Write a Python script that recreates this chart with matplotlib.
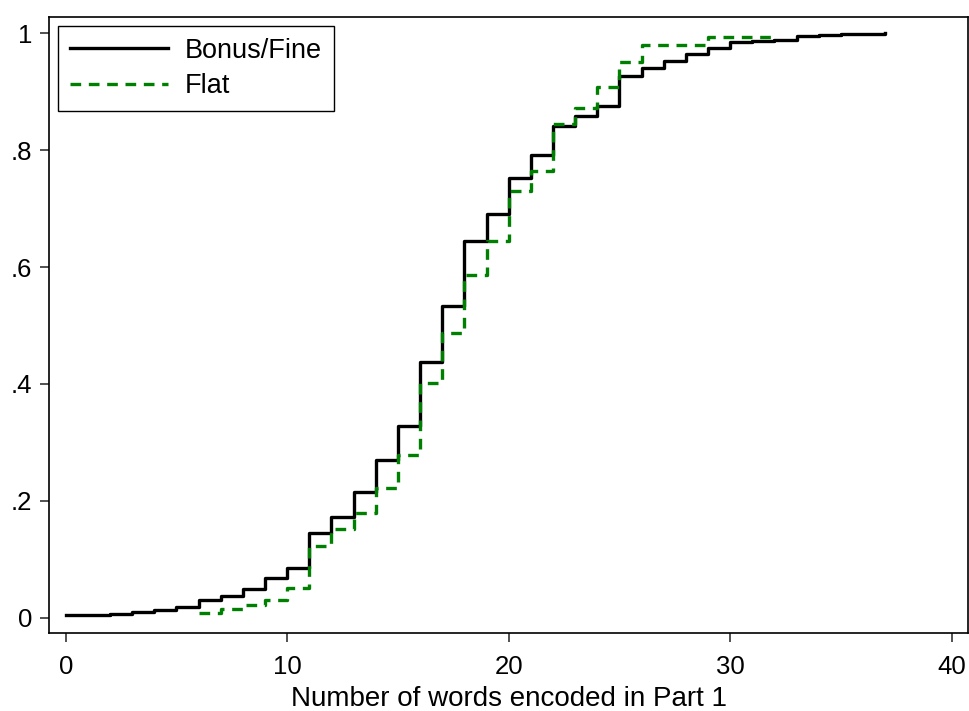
import matplotlib
matplotlib.use("Agg")
import matplotlib.pyplot as plt

plt.rcParams['font.family'] = ['Liberation Sans', 'DejaVu Sans']

# words encoded (x) and cumulative share, Bonus/Fine group
bonus_x = list(range(0, 38))
bonus_cdf = [0.004, 0.004, 0.006, 0.009, 0.014, 0.019, 0.031, 0.037, 0.049, 0.068,
             0.085, 0.145, 0.173, 0.215, 0.270, 0.328, 0.438, 0.533, 0.645, 0.691,
             0.752, 0.791, 0.841, 0.858, 0.876, 0.927, 0.941, 0.952, 0.965, 0.975,
             0.985, 0.987, 0.989, 0.995, 0.997, 0.998, 0.999, 1.0]

# Flat group
flat_x = list(range(6, 33))
flat_cdf = [0.008, 0.015, 0.022, 0.030, 0.051, 0.123, 0.152, 0.180, 0.222, 0.279,
            0.401, 0.487, 0.587, 0.644, 0.730, 0.765, 0.844, 0.872, 0.908, 0.951,
            0.980, 0.980, 0.980, 0.994, 0.994, 0.994, 1.0]

xticks = [0, 10, 20, 30, 40]
yticks = [0, 0.2, 0.4, 0.6, 0.8, 1]
ylabels = ["0", ".2", ".4", ".6", ".8", "1"]

fig = plt.figure(figsize=(9.69, 7.11), dpi=100)
ax = fig.add_axes([49.3/969, 1-633.3/711, (968.3-49.3)/969, (633.3-16.7)/711])

ax.step(bonus_x, bonus_cdf, where='post', color='black', lw=2.4, label='Bonus/Fine')
ax.step(flat_x, flat_cdf, where='post', color='#008000', lw=2.4,
        dashes=(3.2, 2.3), label='Flat')

ax.set_xlim(-0.74, 40.75)
ax.set_ylim(-0.0267, 1.0284)
ax.set_xticks(xticks)
ax.set_yticks(yticks)
ax.set_yticklabels(ylabels)
ax.tick_params(labelsize=18.5, length=6.5, width=1.2, color='#333333')
ax.tick_params(axis='x', pad=9)
ax.tick_params(axis='y', pad=6)
for s in ax.spines.values():
    s.set_linewidth(1.2)
ax.set_xlabel("Number of words encoded in Part 1", fontsize=20, labelpad=5)

leg = ax.legend(loc='upper left', fontsize=19.5, frameon=True, fancybox=False,
                edgecolor='black', framealpha=1, handlelength=3.6,
                borderaxespad=0.33, borderpad=0.45, labelspacing=0.35,
                handletextpad=0.63)
leg.get_frame().set_linewidth(1.0)

fig.savefig("out.png", dpi=100)
